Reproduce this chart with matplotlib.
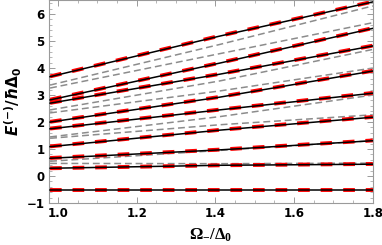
"""Lower-branch energies E^(-) vs Omega_- : exact (black), approx (red dashed),
other levels (grey dashed). Re-drawn from the reference figure."""
import matplotlib
matplotlib.use("Agg")
import matplotlib.pyplot as plt
from matplotlib.ticker import MultipleLocator

omega = [0.98, 1.41, 1.80]

# exact levels (black solid)
exact_0 = [-0.50, -0.50, -0.50]
exact_1 = [0.29, 0.40, 0.44]
exact_2 = [0.66, 0.97, 1.31]
exact_3 = [1.09, 1.70, 2.18]
exact_4 = [1.75, 2.45, 3.07]
exact_5 = [2.00, 2.92, 3.89]
exact_6 = [2.70, 3.77, 4.82]
exact_7 = [2.82, 4.18, 5.47]
exact_8 = [3.68, 5.18, 6.45]

# approximate levels (red dashed)
approx_0 = [-0.50, -0.50, -0.50]
approx_1 = [0.29, 0.40, 0.45]
approx_2 = [0.67, 0.98, 1.32]
approx_3 = [1.10, 1.71, 2.19]
approx_4 = [1.76, 2.46, 3.08]
approx_5 = [2.01, 2.93, 3.90]
approx_6 = [2.71, 3.78, 4.83]
approx_7 = [2.83, 4.19, 5.48]
approx_8 = [3.69, 5.19, 6.46]

# remaining levels (grey dashed)
other_0 = [0.47, 0.46, 0.48]
other_1 = [0.55, 0.95, 1.31]
other_2 = [1.40, 1.90, 2.27]
other_3 = [1.45, 2.20, 3.00]
other_4 = [2.34, 3.15, 4.00]
other_5 = [2.45, 3.52, 4.69]
other_6 = [3.26, 4.53, 5.68]
other_7 = [3.37, 4.87, 6.30]

exact = [exact_0, exact_1, exact_2, exact_3, exact_4, exact_5, exact_6, exact_7, exact_8]
approx = [approx_0, approx_1, approx_2, approx_3, approx_4, approx_5, approx_6, approx_7, approx_8]
others = [other_0, other_1, other_2, other_3, other_4, other_5, other_6, other_7]

FRAME = "#9a9a9a"


def main():
    plt.rcParams["mathtext.fontset"] = "custom"
    plt.rcParams["mathtext.rm"] = "DejaVu Sans:bold"
    plt.rcParams["mathtext.it"] = "DejaVu Sans:italic:bold"
    plt.rcParams["mathtext.bf"] = "DejaVu Sans:bold"
    plt.rcParams["mathtext.sf"] = "Liberation Serif:bold"

    fig = plt.figure(figsize=(3.82, 2.45), dpi=100)
    ax = fig.add_axes([0.128, 0.171, 0.848, 0.829])

    for ys in others:
        ax.plot(omega, ys, color="#8c8c8c", lw=1.1, dashes=(4.5, 2.5), zorder=1)
    for ys in approx:
        ax.plot(omega, ys, color="#ff0000", lw=2.8, dashes=(3.0, 2.8), zorder=2)
    for ys in exact:
        ax.plot(omega, ys, color="black", lw=1.1, zorder=3)

    ax.set_xlim(0.977, 1.8)
    ax.set_ylim(-1.0, 6.52)
    ax.xaxis.set_major_locator(MultipleLocator(0.2))
    ax.xaxis.set_minor_locator(MultipleLocator(0.05))
    ax.yaxis.set_major_locator(MultipleLocator(1))
    ax.yaxis.set_minor_locator(MultipleLocator(0.2))
    ax.xaxis.set_major_formatter(plt.FuncFormatter(lambda v, p: f"{v:.1f}"))
    ax.yaxis.set_major_formatter(plt.FuncFormatter(lambda v, p: f"{v:.0f}".replace("-", "\u2212")))

    for s in ax.spines.values():
        s.set_color(FRAME)
        s.set_linewidth(0.8)
    ax.tick_params(which="both", direction="in", top=True, right=True,
                   color=FRAME, labelsize=8.5, pad=3)
    ax.tick_params(which="major", length=4, width=0.7)
    ax.tick_params(which="minor", length=2, width=0.5)
    for lab in ax.get_xticklabels() + ax.get_yticklabels():
        lab.set_fontweight("bold")

    ax.set_ylabel(r"$E^{(-)}/\hbar\Delta_0$", fontsize=11, labelpad=2)
    ax.set_xlabel(r"$\mathsf{\Omega_{-}/\Delta_0}$", fontsize=12, labelpad=4)

    fig.savefig("out.png", dpi=100)
    plt.close(fig)


if __name__ == "__main__":
    main()
